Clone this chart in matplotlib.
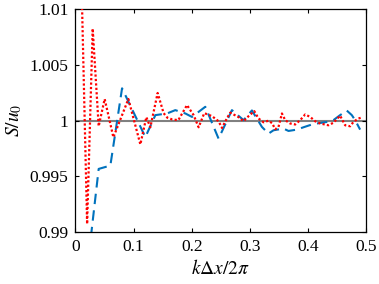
import numpy as np
import matplotlib.pyplot as plt

plt.rcParams['font.family'] = ['Liberation Serif', 'DejaVu Serif']
plt.rcParams['mathtext.fontset'] = 'stix'

# red dotted curve
k_red = [0.010, 0.0201, 0.0297, 0.0400, 0.0503, 0.0653, 0.0911, 0.1117, 0.1220,
         0.1289, 0.1414, 0.1517, 0.1581, 0.1667, 0.1770, 0.1919, 0.2033, 0.2119,
         0.2216, 0.2349, 0.2462, 0.2521, 0.2607, 0.2663, 0.2806, 0.2892, 0.2978,
         0.3076, 0.3149, 0.3235, 0.3321, 0.3385, 0.3436, 0.3493, 0.3552, 0.3608,
         0.3694, 0.3780, 0.3866, 0.3952, 0.4038, 0.4124, 0.4210, 0.4352, 0.4438,
         0.4553, 0.4639, 0.4725, 0.4782, 0.4868, 0.4931]
s_red = [1.01344, 0.99072, 1.00828, 0.99950, 1.00195, 0.99851, 1.00195, 0.99787, 1.00032,
         0.99941, 1.00249, 1.00068, 1.00027, 1.00011, 1.00005, 1.00140, 1.00050, 0.99941,
         1.00068, 1.00041, 0.99995, 0.99935, 1.00023, 1.00072, 1.00032, 0.99995, 1.00041,
         1.00086, 1.00020, 0.99986, 1.00000, 0.99977, 0.99923, 0.99944, 1.00065, 1.00005,
         0.99975, 0.99966, 1.00005, 1.00056, 1.00034, 0.99995, 0.99975, 0.99959, 0.99982,
         1.00045, 0.99959, 0.99950, 0.99989, 1.00020, 1.00029]

# blue dashed curve
k_blue = [0.0200, 0.0400, 0.0601, 0.0802, 0.1203, 0.1375, 0.1576, 0.1718, 0.1890,
          0.2005, 0.2234, 0.2462, 0.2692, 0.2892, 0.3036, 0.3208, 0.3321, 0.3407,
          0.3579, 0.3665, 0.3809, 0.3923, 0.4067, 0.4180, 0.4352, 0.4438, 0.4553,
          0.4668, 0.4754, 0.4811, 0.4897]
s_blue = [0.98656, 0.99567, 0.99597, 1.00291, 0.99853, 1.00050, 1.00065, 1.00095, 1.00065,
          1.00034, 1.00125, 0.99839, 1.00095, 1.00005, 1.00092, 0.99944, 0.99884, 0.99914,
          0.99929, 0.99908, 0.99920, 0.99941, 0.99966, 0.99977, 0.99991, 1.00005, 1.00050,
          1.00091, 1.00050, 1.00005, 0.99920]

xticks = [0, 0.1, 0.2, 0.3, 0.4, 0.5]
xticklabels = ['0', '0.1', '0.2', '0.3', '0.4', '0.5']
yticks = [0.99, 0.995, 1, 1.005, 1.01]
yticklabels = ['0.99', '0.995', '1', '1.005', '1.01']

fig = plt.figure(figsize=(3.79, 2.84), dpi=100)
ax = fig.add_axes([0.199, 0.183, 0.767, 0.784])

ax.axhline(1.0, color='#808080', linewidth=1.5, zorder=1)
ax.plot(k_blue, s_blue, linestyle=(0, (5, 3)), color='#0072BD', linewidth=1.5, zorder=2)
ax.plot(k_red, s_red, linestyle=(0, (1, 1)), color='#FF0000', linewidth=1.6, zorder=3)

ax.set_xlim(0, 0.5)
ax.set_ylim(0.99, 1.01)
ax.set_xticks(xticks)
ax.set_xticklabels(xticklabels)
ax.set_yticks(yticks)
ax.set_yticklabels(yticklabels)
ax.tick_params(direction='in', top=True, right=True, length=3, width=0.8,
               labelsize=12.5, pad=5)
for sp in ax.spines.values():
    sp.set_linewidth(0.9)

ax.set_xlabel(r'$k\Delta x/2\pi$', fontsize=14, labelpad=3)
ax.set_ylabel(r'$S/u_0$', fontsize=14, labelpad=4)

fig.savefig('out.png', dpi=100)
